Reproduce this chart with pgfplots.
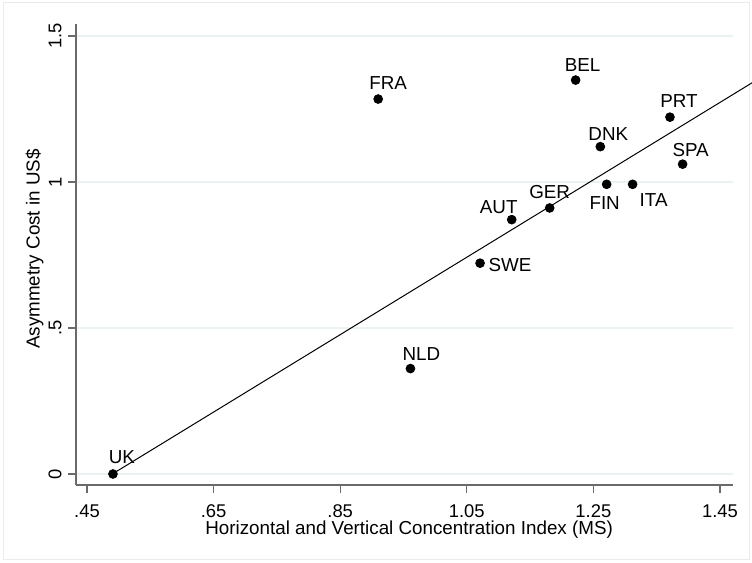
\documentclass[border=0pt]{standalone}
\usepackage{pgfplots}
\pgfplotsset{compat=1.18}
\usepackage{pgfplotstable}
\usepackage{fontspec}
\setmainfont{Liberation Sans}
\definecolor{gridc}{HTML}{EAF2F3}
\definecolor{axc}{HTML}{6A6A6A}
\definecolor{framec}{HTML}{EBEBEB}

\pgfplotstableread{
name x y lx ly
UK  0.491 0.000 4.5 8.5
FRA 0.910 1.284 5 8
NLD 0.961 0.361 5.5 7.5
SWE 1.071 0.722 15 -1
AUT 1.121 0.871 -6.5 6.5
GER 1.181 0.911 0 8
BEL 1.222 1.349 3.5 7.5
DNK 1.261 1.121 4 6.5
FIN 1.271 0.992 -1 -9.5
ITA 1.312 0.992 10.5 -8
PRT 1.371 1.222 4.5 8
SPA 1.391 1.061 4 7
}\datatable

\begin{document}
\begin{tikzpicture}
\path[use as bounding box] (0,0) rectangle (376pt,281.5pt);
\draw[framec, line width=0.5pt] (1.5pt,1.5pt) rectangle (374.5pt,280pt);
\begin{axis}[
  at={(38pt,39pt)}, anchor=south west,
  scale only axis,
  width=328.5pt, height=230.5pt,
  xmin=0.4326, xmax=1.4706,
  ymin=-0.0377, ymax=1.541,
  axis x line*=bottom, axis y line*=left,
  axis line style={axc, line width=0.7pt},
  tick style={axc, line width=0.6pt},
  tick align=outside,
  major tick length=4pt,
  xtick={0.45,0.65,0.85,1.05,1.25,1.45},
  ytick={0,0.5,1,1.5},
  minor tick num=0,
  ymajorgrids,
  grid style={gridc, line width=0.8pt},
  /pgf/number format/.cd, fixed, precision=2, skip 0.=true, assume math mode=true,
  /pgfplots/.cd,
  tick label style={font=\fontsize{9.2}{10}\selectfont, inner sep=0pt},
  xticklabel shift=5.5pt,
  yticklabel shift=3pt,
  yticklabel style={rotate=90, anchor=south},
  xlabel={Horizontal and Vertical Concentration Index (MS)},
  ylabel={Asymmetry Cost in US\$},
  every axis x label/.style={at={(axis description cs:0.507,-0.0759)}, anchor=north, inner sep=0pt, font=\fontsize{9.4}{11}\selectfont},
  every axis y label/.style={at={(axis description cs:-0.0487,0.512)}, rotate=90, anchor=south, inner sep=0pt, font=\fontsize{9.4}{11}\selectfont},
  clip=false,
]
\addplot[black, line width=0.5pt, no marks] coordinates {(0.49,0) (1.501,1.340)};
\addplot[
  only marks, mark=*, mark size=2.2pt, black,
  point meta=explicit symbolic,
  nodes near coords,
  visualization depends on={\thisrow{lx} \as \lx},
  visualization depends on={\thisrow{ly} \as \ly},
  nodes near coords style={anchor=center, inner sep=0pt, xshift=\lx pt, yshift=\ly pt, font=\fontsize{9.4}{11}\selectfont, text=black},
] table[x=x, y=y, meta=name] {\datatable};
\end{axis}
\end{tikzpicture}
\end{document}
